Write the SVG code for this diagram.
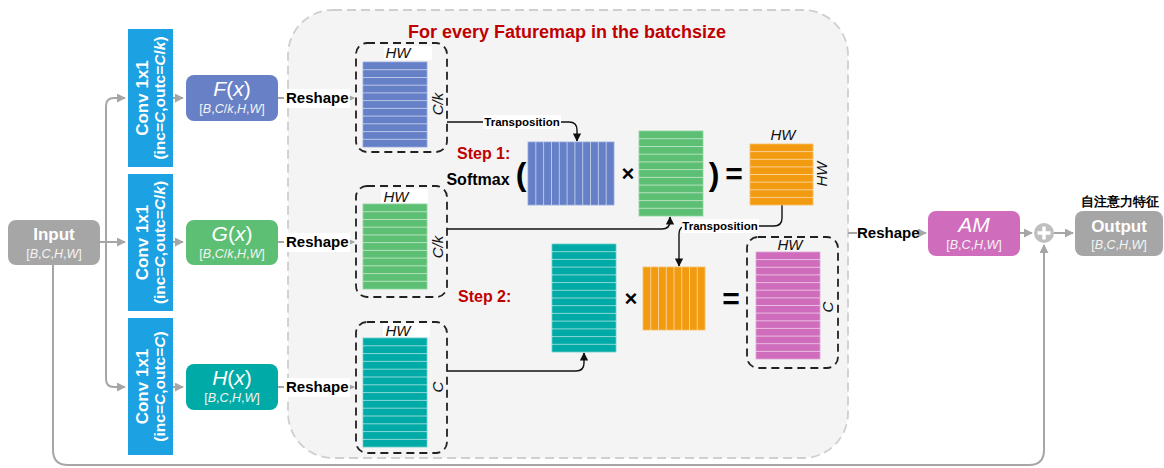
<svg xmlns="http://www.w3.org/2000/svg" width="1164" height="468" viewBox="0 0 1164 468">
<defs>
<marker id="ag" viewBox="0 0 10 10" refX="9" refY="5" markerWidth="4.5" markerHeight="4.5" orient="auto" markerUnits="strokeWidth"><path d="M0,0L10,5L0,10z" fill="#a6a6a6"/></marker>
<marker id="ak" viewBox="0 0 10 10" refX="9" refY="5" markerWidth="6" markerHeight="6" orient="auto" markerUnits="strokeWidth"><path d="M0,0L10,5L0,10z" fill="#111"/></marker>
<style>
.t{font-family:"Liberation Sans",Arial,sans-serif}
.conv{fill:#1ca1e2}
.ct1{font-family:"Liberation Sans",Arial,sans-serif;font-weight:bold;font-size:17px;fill:#fff;text-anchor:middle}
.ct2{font-family:"Liberation Sans",Arial,sans-serif;font-weight:bold;font-size:15.5px;fill:#fff;text-anchor:middle}
.nt{font-family:"Liberation Sans",Arial,sans-serif;font-size:21px;fill:#fff;text-anchor:middle}
.ns{font-family:"Liberation Sans",Arial,sans-serif;font-size:12.5px;fill:#f4f4f4;text-anchor:middle}
.nb{font-family:"Liberation Sans",Arial,sans-serif;font-size:17px;font-weight:bold;fill:#fff;text-anchor:middle}
.i{font-style:italic}
.gl{fill:none;stroke:#a6a6a6;stroke-width:2}
.kl{fill:none;stroke:#111;stroke-width:1.4}
.rs{font-family:"Liberation Sans",Arial,sans-serif;font-weight:bold;font-size:15px;fill:#000}
.tp{font-family:"Liberation Sans",Arial,sans-serif;font-weight:bold;font-size:11.5px;fill:#000;text-anchor:middle}
.dash{fill:none;stroke:#222;stroke-width:1.8;stroke-dasharray:8 5}
.lab{font-family:"Liberation Sans",Arial,sans-serif;font-style:italic;font-size:15px;fill:#111;text-anchor:middle}
.str{fill:none;stroke:#fff;stroke-opacity:0.55;stroke-width:1}
.red{font-family:"Liberation Sans",Arial,sans-serif;font-weight:bold;font-size:16px;fill:#c00000}
.op{font-family:"Liberation Sans",Arial,sans-serif;font-weight:bold;fill:#000;text-anchor:middle}
</style>
</defs>

<!-- container -->
<g id="container">
<rect x="288" y="10" width="560" height="448" rx="45" fill="#f4f4f4" stroke="#cfcfcf" stroke-width="1.8" stroke-dasharray="9 5"/>
<text class="t" x="567" y="38" text-anchor="middle" font-size="18" font-weight="bold" fill="#c00000">For every Faturemap in the batchsize</text>
</g>

<!-- connectors -->
<g id="connectors">
<path class="gl" d="M100,242H125" marker-end="url(#ag)"/>
<path class="gl" d="M106,242V106Q106,98 114,98H125" marker-end="url(#ag)"/>
<path class="gl" d="M106,242V379Q106,387 114,387H125" marker-end="url(#ag)"/>
<path class="gl" d="M173,98H183" marker-end="url(#ag)"/>
<path class="gl" d="M173,242H183" marker-end="url(#ag)"/>
<path class="gl" d="M173,387H183" marker-end="url(#ag)"/>
<path class="gl" d="M278,98H286"/>
<path class="gl" d="M278,242H286"/>
<path class="gl" d="M278,387H286"/>
<path class="gl" d="M348,98H354" marker-end="url(#ag)"/>
<path class="gl" d="M348,242H354" marker-end="url(#ag)"/>
<path class="gl" d="M348,387H354" marker-end="url(#ag)"/>
<path class="gl" d="M848,233H857"/>
<path class="gl" d="M918,233H926" marker-end="url(#ag)"/>
<path class="gl" d="M1020,233H1032" marker-end="url(#ag)"/>
<path class="gl" d="M1054,233H1073" marker-end="url(#ag)"/>
<path class="gl" d="M53,265V450Q53,465 68,465H1029Q1044,465 1044,450V245" marker-end="url(#ag)"/>
<path class="kl" d="M447,122H569Q577,122 577,130V141" marker-end="url(#ak)"/>
<path class="kl" d="M447,229H662Q670,229 670,221V217" marker-end="url(#ak)"/>
<path class="kl" d="M782,205V218Q782,226 774,226H687Q679,226 679,234V266" marker-end="url(#ak)"/>
<path class="kl" d="M447,371H576Q584,371 584,363V353" marker-end="url(#ak)"/>
<rect x="483" y="115" width="78" height="14" fill="#fff"/>
<text class="tp" x="522" y="126">Transposition</text>
<rect x="682" y="219" width="77" height="14" fill="#fff"/>
<text class="tp" x="720" y="230">Transposition</text>
<rect x="284" y="89" width="66" height="19" fill="#fff"/>
<text class="rs" x="286" y="103">Reshape</text>
<rect x="284" y="233" width="66" height="19" fill="#fff"/>
<text class="rs" x="286" y="247">Reshape</text>
<rect x="284" y="378" width="66" height="19" fill="#fff"/>
<text class="rs" x="286" y="392">Reshape</text>
<text class="rs" x="857" y="238">Reshape</text>
</g>

<!-- input -->
<g id="input">
<rect x="8" y="220" width="92" height="45" rx="8" fill="#a6a6a6"/>
<text class="nb" x="54" y="240">Input</text>
<text class="ns" x="54" y="258">[<tspan class="i">B</tspan>,<tspan class="i">C</tspan>,<tspan class="i">H</tspan>,<tspan class="i">W</tspan>]</text>
</g>

<!-- conv boxes -->
<g id="conv1">
<rect class="conv" x="128" y="29" width="45" height="138"/>
<g transform="translate(150.5,98) rotate(-90)">
<text class="ct1" x="0" y="-3">Conv 1x1</text>
<text class="ct2" x="0" y="14.5">(inc=<tspan class="i">C</tspan>,outc=<tspan class="i">C</tspan>/<tspan class="i">k</tspan>)</text>
</g>
</g>
<g id="conv2">
<rect class="conv" x="128" y="174" width="45" height="137"/>
<g transform="translate(150.5,242.5) rotate(-90)">
<text class="ct1" x="0" y="-3">Conv 1x1</text>
<text class="ct2" x="0" y="14.5">(inc=<tspan class="i">C</tspan>,outc=<tspan class="i">C</tspan>/<tspan class="i">k</tspan>)</text>
</g>
</g>
<g id="conv3">
<rect class="conv" x="128" y="318" width="45" height="137"/>
<g transform="translate(150.5,386.5) rotate(-90)">
<text class="ct1" x="0" y="-3">Conv 1x1</text>
<text class="ct2" x="0" y="14.5">(inc=<tspan class="i">C</tspan>,outc=<tspan class="i">C</tspan>)</text>
</g>
</g>

<!-- F G H -->
<g id="F">
<rect x="186" y="75" width="92" height="46" rx="8" fill="#6780c6"/>
<text class="nt" x="232" y="96"><tspan class="i">F</tspan>(<tspan class="i">x</tspan>)</text>
<text class="ns" x="232" y="113">[<tspan class="i">B</tspan>,<tspan class="i">C</tspan>/<tspan class="i">k</tspan>,<tspan class="i">H</tspan>,<tspan class="i">W</tspan>]</text>
</g>
<g id="G">
<rect x="186" y="220" width="92" height="45" rx="8" fill="#5dbf73"/>
<text class="nt" x="232" y="241"><tspan class="i">G</tspan>(<tspan class="i">x</tspan>)</text>
<text class="ns" x="232" y="258">[<tspan class="i">B</tspan>,<tspan class="i">C</tspan>/<tspan class="i">k</tspan>,<tspan class="i">H</tspan>,<tspan class="i">W</tspan>]</text>
</g>
<g id="H">
<rect x="186" y="364" width="92" height="46" rx="8" fill="#00aaa6"/>
<text class="nt" x="232" y="385"><tspan class="i">H</tspan>(<tspan class="i">x</tspan>)</text>
<text class="ns" x="232" y="402">[<tspan class="i">B</tspan>,<tspan class="i">C</tspan>,<tspan class="i">H</tspan>,<tspan class="i">W</tspan>]</text>
</g>

<!-- matrix holders -->
<g id="matF">
<rect class="dash" x="356" y="43" width="91" height="109" rx="11"/>
<rect x="384" y="46" width="48" height="14" fill="#fff"/>
<text class="lab" x="398" y="58">HW</text>
<rect x="363" y="62" width="64" height="85" fill="#6680c8" stroke="#95a7de" stroke-width="0.8"/>
<path class="str" d="M363,69.7h64M363,77.5h64M363,85.2h64M363,92.9h64M363,100.6h64M363,108.4h64M363,116.1h64M363,123.8h64M363,131.6h64M363,139.3h64"/>
<text class="lab" transform="translate(443,104) rotate(-90)" x="0" y="0">C/k</text>
</g>
<g id="matG">
<rect class="dash" x="356" y="186" width="91" height="111" rx="11"/>
<rect x="381" y="189" width="47" height="14" fill="#fff"/>
<text class="lab" x="396" y="202">HW</text>
<rect x="363" y="204" width="64" height="85" fill="#5dbf73" stroke="#8fd6a0" stroke-width="0.8"/>
<path class="str" d="M363,211.7h64M363,219.5h64M363,227.2h64M363,234.9h64M363,242.6h64M363,250.4h64M363,258.1h64M363,265.8h64M363,273.6h64M363,281.3h64"/>
<text class="lab" transform="translate(443,247) rotate(-90)" x="0" y="0">C/k</text>
</g>
<g id="matH">
<rect class="dash" x="356" y="322" width="91" height="131" rx="11"/>
<rect x="383" y="323" width="47" height="14" fill="#fff"/>
<text class="lab" x="398" y="336">HW</text>
<rect x="363" y="338" width="64" height="109" fill="#00aaa6" stroke="#66d0cc" stroke-width="0.8"/>
<path class="str" d="M363,345.8h64M363,353.6h64M363,361.4h64M363,369.2h64M363,377h64M363,384.8h64M363,392.6h64M363,400.4h64M363,408.2h64M363,416h64M363,423.8h64M363,431.6h64M363,439.4h64"/>
<text class="lab" transform="translate(443,387) rotate(-90)" x="0" y="0">C</text>
</g>

<!-- step 1 -->
<g id="step1">
<text class="red" x="457" y="159">Step 1:</text>
<text class="op" x="478" y="185" font-size="16">Softmax</text>
<text class="op" x="521" y="185" font-size="32">(</text>
<rect x="528" y="142" width="86" height="63" fill="#6680c8" stroke="#95a7de" stroke-width="0.8"/>
<path class="str" d="M535.8,142v63M543.6,142v63M551.5,142v63M559.3,142v63M567.1,142v63M574.9,142v63M582.7,142v63M590.5,142v63M598.4,142v63M606.2,142v63"/>
<text class="op" x="628" y="181" font-size="22">×</text>
<rect x="639" y="131" width="64" height="85" fill="#5dbf73" stroke="#8fd6a0" stroke-width="0.8"/>
<path class="str" d="M639,138.7h64M639,146.5h64M639,154.2h64M639,161.9h64M639,169.6h64M639,177.4h64M639,185.1h64M639,192.8h64M639,200.6h64M639,208.3h64"/>
<text class="op" x="714" y="185" font-size="32">)</text>
<text class="op" x="734" y="184" font-size="30">=</text>
<text class="lab" x="783" y="140">HW</text>
<rect x="750" y="144" width="63" height="61" fill="#f29a10" stroke="#f8c068" stroke-width="0.8"/>
<path class="str" d="M750,151.6h63M750,159.3h63M750,166.9h63M750,174.5h63M750,182.1h63M750,189.8h63M750,197.4h63"/>
<text class="lab" transform="translate(827,174) rotate(-90)" x="0" y="0">HW</text>
</g>

<!-- step 2 -->
<g id="step2">
<text class="red" x="458" y="302">Step 2:</text>
<rect x="552" y="244" width="64" height="108" fill="#00aaa6" stroke="#66d0cc" stroke-width="0.8"/>
<path class="str" d="M552,251.7h64M552,259.4h64M552,267.1h64M552,274.9h64M552,282.6h64M552,290.3h64M552,298h64M552,305.7h64M552,313.4h64M552,321.1h64M552,328.9h64M552,336.6h64M552,344.3h64"/>
<text class="op" x="631" y="306" font-size="22">×</text>
<rect x="643" y="267" width="62" height="63" fill="#f29a10" stroke="#f8c068" stroke-width="0.8"/>
<path class="str" d="M650.75,267v63M658.5,267v63M666.25,267v63M674,267v63M681.75,267v63M689.5,267v63M697.25,267v63"/>
<text class="op" x="731" y="309" font-size="30">=</text>
</g>
<g id="matAM">
<rect class="dash" x="747" y="237" width="91" height="131" rx="11"/>
<text class="lab" x="790" y="250">HW</text>
<rect x="756" y="252" width="64" height="107" fill="#cf6dbc" stroke="#e3a3d6" stroke-width="0.8"/>
<path class="str" d="M756,259.6h64M756,267.3h64M756,274.9h64M756,282.6h64M756,290.2h64M756,297.9h64M756,305.5h64M756,313.1h64M756,320.8h64M756,328.4h64M756,336.1h64M756,343.7h64M756,351.4h64"/>
<text class="lab" transform="translate(833,307) rotate(-90)" x="0" y="0">C</text>
</g>

<!-- AM, plus, output -->
<g id="AM">
<rect x="928" y="211" width="92" height="45" rx="8" fill="#cf6dbc"/>
<text class="nt" x="974" y="232"><tspan class="i">AM</tspan></text>
<text class="ns" x="974" y="249">[<tspan class="i">B</tspan>,<tspan class="i">C</tspan>,<tspan class="i">H</tspan>,<tspan class="i">W</tspan>]</text>
</g>
<g id="plus">
<circle cx="1044" cy="233" r="10" fill="#bfbfbf"/>
<path d="M1037.5,233h13M1044,226.5v13" stroke="#fff" stroke-width="3.5"/>
</g>
<g id="output">
<text class="t" x="1120" y="206" text-anchor="middle" font-size="12.5" font-weight="bold" font-family="'Liberation Sans','Noto Sans CJK SC',sans-serif" fill="#000">自注意力特征</text>
<rect x="1075" y="211" width="88" height="45" rx="8" fill="#a6a6a6"/>
<text class="nb" x="1119" y="232">Output</text>
<text class="ns" x="1119" y="249">[<tspan class="i">B</tspan>,<tspan class="i">C</tspan>,<tspan class="i">H</tspan>,<tspan class="i">W</tspan>]</text>
</g>
</svg>
